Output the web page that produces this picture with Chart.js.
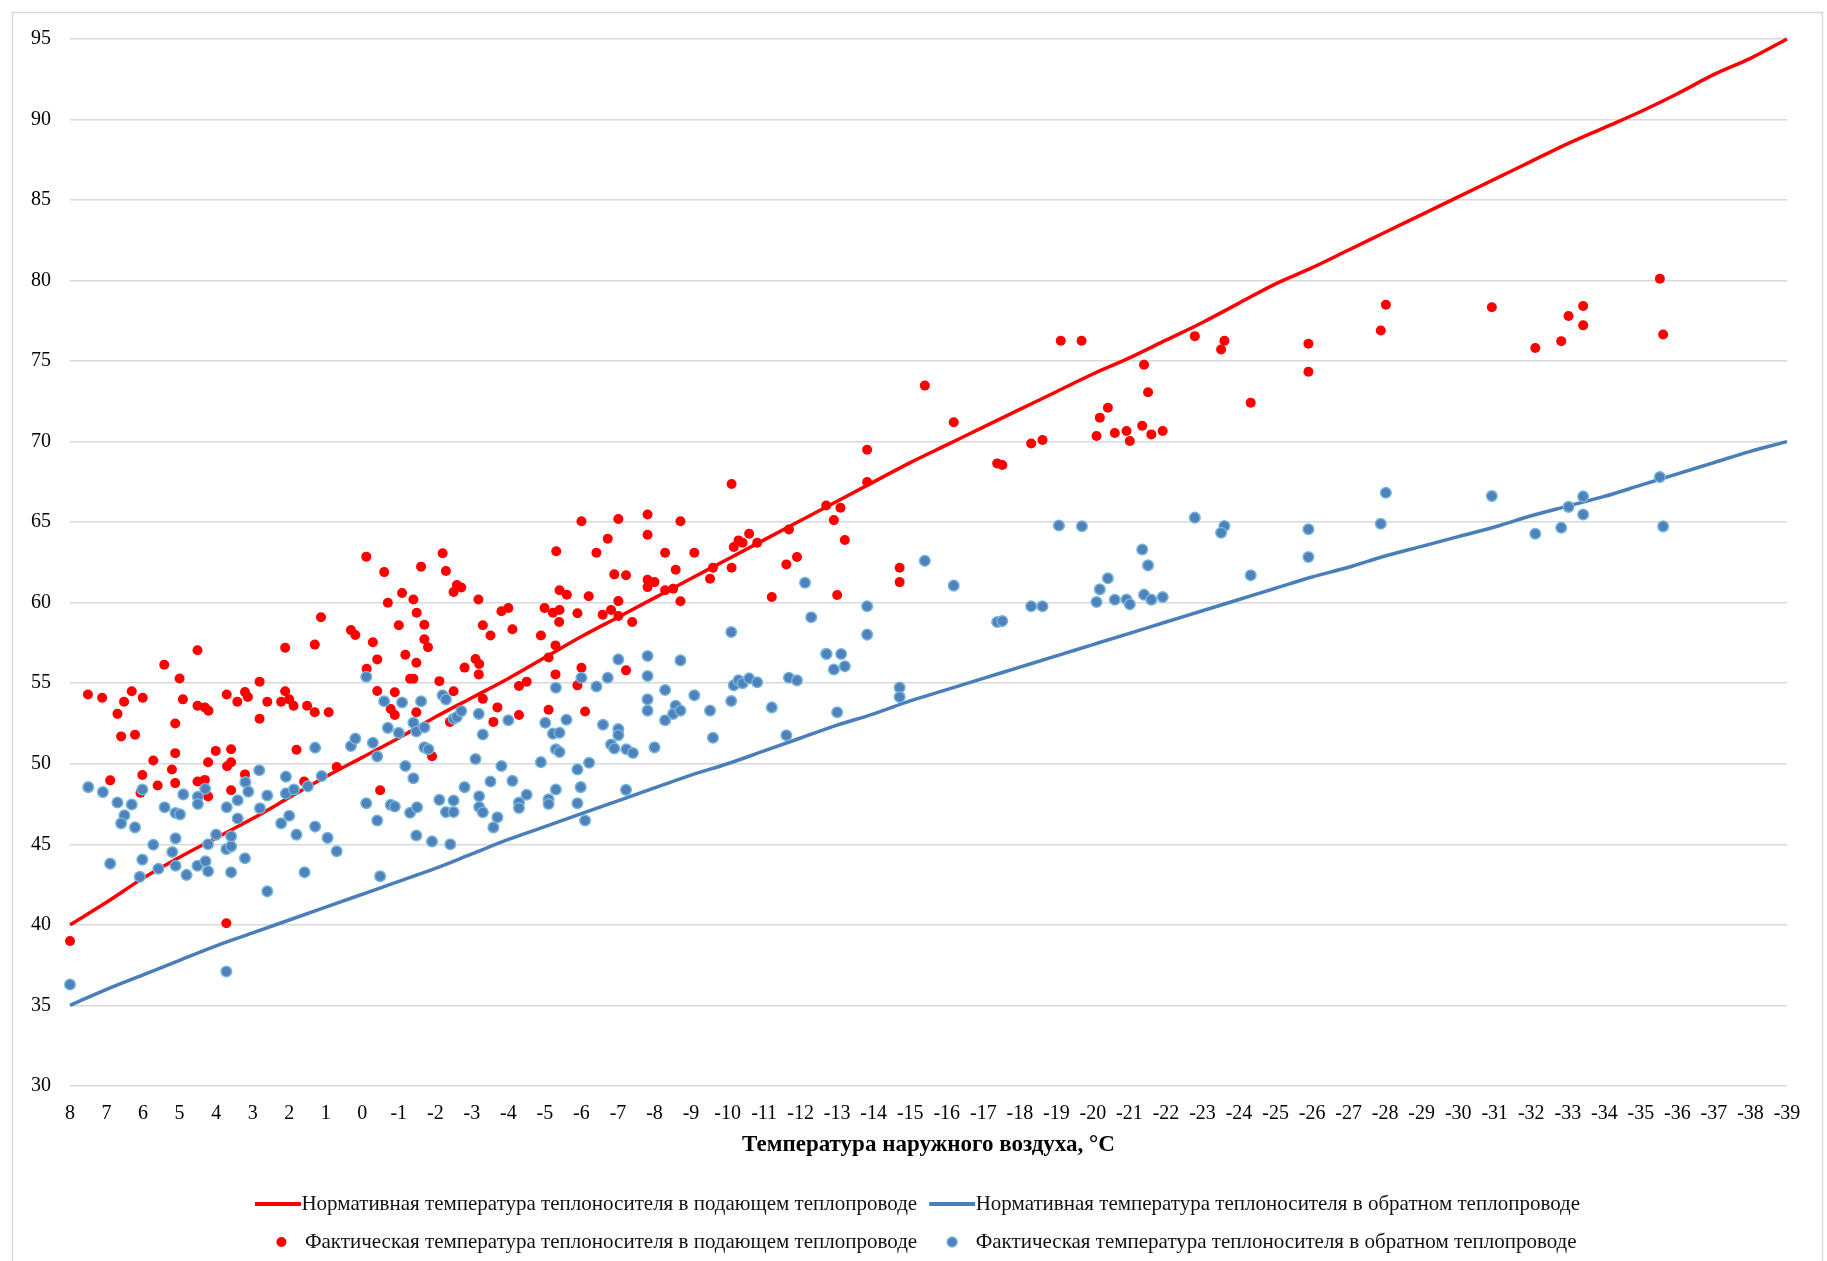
<!DOCTYPE html>
<html>
<head>
<meta charset="utf-8">
<title>Температура теплоносителя</title>
<script src="https://cdn.jsdelivr.net/npm/chart.js@4.4.1/dist/chart.umd.min.js"></script>
<style>
  html, body { margin: 0; padding: 0; background: #fff; }
  #wrap { position: relative; width: 1827px; height: 1261px; }
  canvas { display: block; }
</style>
</head>
<body>
<div id="wrap"><canvas id="chart" width="1827" height="1261"></canvas></div>
<script>
// Outdoor air temperature points of the schedule, °C
const outdoorTemps = [8, 7, 6, 5, 4, 3, 2, 1, 0, -1, -2, -3, -4, -5, -6, -7, -8, -9, -10, -11, -12, -13, -14, -15,
  -16, -17, -18, -19, -20, -21, -22, -23, -24, -25, -26, -27, -28, -29, -30, -31, -32, -33, -34, -35, -36, -37, -38, -39];

const xTickLabels = ['8', '7', '6', '5', '4', '3', '2', '1', '0', '-1', '-2', '-3', '-4', '-5', '-6', '-7', '-8', '-9',
  '-10', '-11', '-12', '-13', '-14', '-15', '-16', '-17', '-18', '-19', '-20', '-21', '-22', '-23', '-24', '-25', '-26',
  '-27', '-28', '-29', '-30', '-31', '-32', '-33', '-34', '-35', '-36', '-37', '-38', '-39'];

const yTickValues = [30, 35, 40, 45, 50, 55, 60, 65, 70, 75, 80, 85, 90, 95];

// Normative supply temperature, °C
const normSupply = [40.0, 41.4, 42.9, 44.2, 45.4, 46.6, 47.9, 49.2, 50.4, 51.6, 52.9, 54.1, 55.3, 56.6, 57.9, 59.1,
  60.3, 61.5, 62.7, 63.9, 65.1, 66.3, 67.5, 68.7, 69.8, 70.9, 72.0, 73.1, 74.2, 75.2, 76.3, 77.4,
  78.6, 79.8, 80.8, 81.9, 83.0, 84.1, 85.2, 86.3, 87.4, 88.5, 89.5, 90.5, 91.6, 92.8, 93.8, 95.0];

// Normative return temperature, °C
const normReturn = [35.0, 36.0, 36.9, 37.8, 38.7, 39.5, 40.3, 41.1, 41.9, 42.7, 43.5, 44.4, 45.3, 46.1, 46.9, 47.7,
  48.5, 49.3, 50.0, 50.8, 51.6, 52.4, 53.1, 53.9, 54.6, 55.3, 56.0, 56.7, 57.4, 58.1, 58.8, 59.5,
  60.2, 60.9, 61.6, 62.2, 62.9, 63.5, 64.1, 64.7, 65.4, 66.0, 66.6, 67.3, 68.0, 68.7, 69.4, 70.0];

// Measured supply temperature: [outdoor °C, supply °C]
const factSupply = [
  [8.0, 39.0], [3.72, 40.1], [7.51, 54.3], [7.12, 54.1], [6.31, 54.5], [6.52, 53.85], [6.01, 54.1], [6.70, 53.1],
  [6.60, 51.7], [6.22, 51.8], [5.42, 56.15], [5.0, 55.3], [4.91, 54.0], [4.51, 57.05], [4.51, 53.6], [4.31, 53.5],
  [4.21, 53.3], [5.12, 52.5], [3.71, 54.3], [3.42, 53.85], [3.21, 54.45], [3.13, 54.15], [2.81, 55.1], [2.81, 52.8],
  [2.60, 53.85], [2.11, 57.2], [1.30, 57.4], [1.13, 59.1], [2.22, 53.85], [2.11, 54.5], [2.0, 54.0], [1.88, 53.6],
  [1.51, 53.6], [1.30, 53.2], [0.92, 53.2], [4.01, 50.8], [3.59, 50.9], [3.59, 50.1], [3.70, 49.85], [4.22, 50.1],
  [5.12, 50.66], [5.21, 49.65], [5.72, 50.2], [6.02, 49.3], [6.90, 48.97], [5.6, 48.65], [5.12, 48.8], [4.51, 48.9],
  [4.31, 49.0], [4.22, 47.97], [3.21, 49.34], [3.59, 48.36], [1.80, 50.87], [1.59, 48.9], [6.07, 48.2], [0.70, 49.8],
  [-0.11, 62.86], [-0.60, 61.9], [-0.70, 60.0], [-1.09, 60.6], [-1.40, 60.2], [-1.49, 59.38], [-1.0, 58.6], [-1.70, 58.63],
  [-1.61, 62.24], [-2.20, 63.07], [-2.29, 61.97], [-2.50, 60.66], [-2.71, 60.95], [-2.59, 61.1], [-3.18, 60.2], [-3.30, 58.6],
  [-3.51, 57.97], [-3.81, 59.47], [-4.0, 59.67], [-4.11, 58.35], [-4.89, 57.97], [-4.99, 59.67], [-5.22, 59.38], [-5.40, 59.55],
  [-5.39, 58.8], [-5.31, 63.2], [-5.40, 60.77], [-5.60, 60.5], [-5.29, 57.35], [-5.10, 56.6], [-5.29, 55.55], [0.31, 58.3],
  [0.19, 58.0], [-0.29, 57.55], [-0.41, 56.48], [-0.12, 55.9], [-1.18, 56.77], [-1.48, 56.27], [-1.70, 57.73], [-1.80, 57.23],
  [-1.31, 55.28], [-1.40, 55.28], [-2.11, 55.13], [-2.50, 54.5], [-0.41, 54.52], [-0.89, 54.44], [-0.78, 53.4], [-0.89, 53.03],
  [-1.48, 53.2], [-3.10, 56.5], [-3.20, 56.2], [-3.19, 55.55], [-2.80, 55.97], [-3.30, 54.03], [-3.70, 53.5], [-3.59, 52.6],
  [-4.29, 54.83], [-4.50, 55.1], [-4.29, 53.03], [-5.10, 53.35], [-2.40, 52.6], [-1.91, 50.47], [-0.49, 48.36],
  [-6.0, 65.06], [-7.01, 65.2], [-7.81, 65.48], [-7.81, 64.22], [-8.71, 65.06], [-10.11, 67.37], [-6.72, 63.97], [-6.41, 63.1],
  [-8.29, 63.1], [-9.09, 63.1], [-8.58, 62.05], [-9.60, 62.17], [-10.11, 62.17], [-9.52, 61.49], [-6.90, 61.76], [-7.22, 61.7],
  [-7.81, 61.43], [-7.81, 60.97], [-8.0, 61.28], [-8.29, 60.77], [-8.51, 60.87], [-8.71, 60.09], [-10.17, 63.46], [-10.30, 63.87],
  [-10.41, 63.72], [-10.59, 64.28], [-10.81, 63.72], [-11.68, 64.55], [-12.70, 66.04], [-11.61, 62.38], [-11.90, 62.84], [-11.21, 60.35],
  [-6.20, 60.4], [-5.89, 59.35], [-6.58, 59.25], [-6.81, 59.55], [-7.01, 60.1], [-7.01, 59.18], [-7.39, 58.8], [-6.0, 55.96],
  [-7.22, 55.8], [-5.89, 54.87], [-6.10, 53.25],
  [-15.40, 73.48], [-16.19, 71.2], [-13.82, 69.5], [-13.82, 67.5], [-13.09, 65.9], [-12.91, 65.13], [-13.21, 63.89], [-14.71, 62.17],
  [-14.71, 61.28], [-13.0, 60.48], [-17.38, 68.65], [-17.52, 68.55], [-18.31, 69.88], [-18.62, 70.1], [-20.10, 70.35], [-20.19, 71.49],
  [-20.41, 72.11], [-20.60, 70.54], [-20.92, 70.66], [-21.01, 70.04], [-21.35, 70.99],
  [-19.12, 76.26], [-19.69, 76.26], [-22.79, 76.55], [-23.60, 76.26], [-23.51, 75.72], [-25.90, 76.08], [-25.90, 74.34], [-24.32, 72.42],
  [-27.88, 76.9], [-21.40, 74.77], [-21.51, 73.07], [-21.60, 70.45], [-21.91, 70.66],
  [-28.02, 78.5], [-30.92, 78.35], [-32.11, 75.82], [-32.82, 76.24], [-33.02, 77.8], [-33.42, 78.42], [-33.42, 77.22], [-35.52, 80.11],
  [-35.61, 76.65]
];

// Measured return temperature: [outdoor °C, return °C]
const factReturn = [
  [7.50, 48.55], [7.10, 48.24], [6.70, 47.6], [6.31, 47.47], [6.02, 48.4], [6.51, 46.8], [6.60, 46.3], [6.22, 46.05],
  [5.41, 47.3], [5.11, 46.94], [4.99, 46.86], [4.90, 48.1], [4.50, 47.95], [4.50, 47.5], [4.30, 48.45], [3.71, 47.3],
  [3.41, 47.74], [3.41, 46.6], [3.20, 48.86], [3.12, 48.27], [2.80, 47.24], [2.60, 48.03], [2.09, 49.2], [2.09, 48.16],
  [1.87, 48.4], [1.49, 48.6], [1.11, 49.24], [2.22, 46.3], [2.0, 46.77], [1.80, 45.6], [1.29, 46.1], [0.95, 45.4],
  [6.90, 43.8], [6.02, 44.05], [6.09, 42.98], [5.72, 44.97], [5.58, 43.48], [5.20, 44.52], [5.11, 45.37], [5.11, 43.67],
  [4.81, 43.1], [4.51, 43.67], [4.29, 43.95], [4.22, 43.33], [4.22, 45.0], [4.0, 45.6], [3.72, 44.7], [3.59, 44.87],
  [3.59, 45.5], [3.59, 43.26], [3.21, 44.13], [2.60, 42.08], [1.58, 43.26], [3.72, 37.1], [8.0, 36.3], [1.29, 51.0],
  [2.82, 49.6],
  [0.70, 44.57], [0.31, 51.1], [0.19, 51.56], [-0.29, 51.3], [-0.41, 50.46], [-0.11, 47.55], [-0.41, 46.48], [-0.49, 43.02],
  [-0.60, 53.88], [-1.09, 53.8], [-0.70, 52.23], [-1.0, 51.92], [-1.40, 52.55], [-1.48, 52.0], [-1.70, 52.26], [-1.70, 51.02],
  [-1.81, 50.9], [-1.61, 53.88], [-1.18, 49.86], [-1.40, 49.1], [-0.78, 47.45], [-0.89, 47.35], [-1.31, 46.96], [-1.50, 47.3],
  [-1.48, 45.55], [-1.91, 45.18], [-2.41, 45.0], [-2.20, 54.25], [-2.29, 54.0], [-2.50, 52.8], [-2.59, 52.9], [-2.71, 53.27],
  [-2.11, 47.76], [-2.50, 47.72], [-2.29, 47.0], [-2.50, 47.0], [-2.80, 48.55], [-3.10, 50.3], [-3.20, 47.98], [-3.20, 47.32],
  [-3.30, 46.99], [-3.19, 53.1], [-3.30, 51.82], [-3.81, 49.86], [-3.51, 48.9], [-3.70, 46.68], [-3.59, 46.05], [-4.11, 48.94],
  [-4.0, 52.7], [-4.29, 47.6], [-4.29, 47.25], [-4.50, 48.08], [-4.89, 50.1], [-5.01, 52.55], [-5.22, 51.87], [-5.40, 51.93],
  [-5.30, 50.9], [-5.40, 50.73], [-5.10, 47.8], [-5.10, 47.5], [-5.30, 48.4], [-5.59, 52.73], [-0.11, 55.4], [-5.30, 54.72],
  [-7.01, 56.48], [-7.81, 56.69], [-8.71, 56.42], [-10.10, 58.18], [-12.12, 61.24], [-12.29, 59.1], [-12.70, 56.83], [-6.0, 55.34],
  [-6.72, 55.34], [-6.41, 54.8], [-7.81, 55.45], [-8.29, 54.58], [-9.09, 54.25], [-7.81, 54.0], [-7.81, 53.3], [-8.58, 53.6],
  [-8.51, 53.1], [-8.71, 53.3], [-9.52, 53.3], [-10.10, 53.9], [-10.17, 54.87], [-10.30, 55.18], [-10.41, 55.0], [-10.59, 55.3],
  [-10.81, 55.06], [-11.68, 55.34], [-11.90, 55.18], [-11.21, 53.5], [-6.59, 52.42], [-7.01, 52.15], [-8.29, 52.7], [-9.60, 51.62],
  [-11.61, 51.77], [-8.0, 51.02], [-7.01, 51.78], [-6.81, 51.2], [-6.90, 50.95], [-7.23, 50.9], [-7.41, 50.67], [-5.89, 49.65],
  [-6.21, 50.06], [-5.98, 48.55], [-5.89, 47.55], [-6.10, 46.48], [-7.22, 48.38],
  [-19.07, 64.79], [-19.70, 64.75], [-15.40, 62.6], [-16.19, 61.06], [-13.82, 59.78], [-13.82, 58.02], [-12.71, 56.82], [-13.11, 56.82],
  [-12.91, 55.85], [-13.21, 56.05], [-14.71, 54.73], [-14.71, 54.15], [-13.0, 53.2], [-17.38, 58.8], [-17.52, 58.86], [-18.31, 59.78],
  [-18.62, 59.78], [-20.10, 60.04], [-20.19, 60.83], [-20.41, 61.52], [-20.60, 60.18], [-20.92, 60.2], [-21.01, 59.9], [-21.35, 63.3],
  [-21.40, 60.5],
  [-22.79, 65.28], [-23.60, 64.76], [-23.51, 64.34], [-25.90, 64.56], [-25.90, 62.84], [-24.32, 61.7], [-27.88, 64.9], [-21.51, 62.32],
  [-21.60, 60.19], [-21.91, 60.35],
  [-28.02, 66.83], [-30.92, 66.62], [-32.11, 64.28], [-32.82, 64.66], [-33.02, 65.95], [-33.42, 66.6], [-33.42, 65.48], [-35.52, 67.8],
  [-35.61, 64.74]
];

const seriesNames = [
  'Нормативная температура теплоносителя в подающем теплопроводе',
  'Нормативная температура теплоносителя в обратном теплопроводе',
  'Фактическая температура теплоносителя в подающем теплопроводе',
  'Фактическая температура теплоносителя в обратном теплопроводе'
];
const axisTitle = 'Температура наружного воздуха, °С';

const RED = '#ff0000';
const BLUE_LINE = '#4a7ebb';
const BLUE_FILL = '#4f81bd';
const BLUE_EDGE = '#74b6d8';
const FONT = '"Liberation Serif", "Times New Roman", serif';

const toPoints = (xs, ys) => xs.map((x, i) => ({ x, y: ys[i] }));
const pairPoints = arr => arr.map(([x, y]) => ({ x, y }));

// Legend symbols: a short line for the schedules, a dot for the measurements
const legendSymbols = [
  { kind: 'line', color: RED },
  { kind: 'line', color: BLUE_LINE },
  { kind: 'dot', color: RED },
  { kind: 'dot', color: BLUE_FILL, edge: BLUE_EDGE }
];

// White background with a thin grey frame around the chart
const framePlugin = {
  id: 'frame',
  beforeDraw(chart) {
    const ctx = chart.ctx;
    ctx.save();
    ctx.fillStyle = '#ffffff';
    ctx.fillRect(0, 0, chart.width, chart.height);
    ctx.strokeStyle = '#d9d9d9';
    ctx.lineWidth = 1.5;
    ctx.strokeRect(12.5, 12.5, 1810, 1270);
    ctx.restore();
  }
};

// Centre the legend on the whole canvas and paint its symbols
const legendSymbolsPlugin = {
  id: 'legendSymbols',
  afterLayout(chart) {
    const lg = chart.legend;
    if (lg) {
      lg.left += 24; lg.right += 24;
      lg.top += 4; lg.bottom += 4;
    }
  },
  afterDraw(chart) {
    const lg = chart.legend;
    if (!lg || !lg.legendHitBoxes) return;
    const ctx = chart.ctx;
    ctx.save();
    lg.legendItems.forEach((item, i) => {
      const hb = lg.legendHitBoxes[i];
      const sym = legendSymbols[item.datasetIndex];
      const cy = hb.top + hb.height / 2;
      if (sym.kind === 'line') {
        ctx.fillStyle = sym.color;
        ctx.fillRect(hb.left, cy - 2, 46, 4);
      } else {
        ctx.beginPath();
        ctx.arc(hb.left + 23, cy, 5, 0, Math.PI * 2);
        ctx.fillStyle = sym.color;
        ctx.fill();
        if (sym.edge) { ctx.lineWidth = 1.5; ctx.strokeStyle = sym.edge; ctx.stroke(); }
      }
    });
    ctx.restore();
  }
};

new Chart(document.getElementById('chart'), {
  type: 'scatter',
  data: {
    datasets: [
      {
        label: seriesNames[0],
        data: toPoints(outdoorTemps, normSupply),
        showLine: true, borderColor: RED, backgroundColor: RED, borderWidth: 3.5,
        pointRadius: 0, pointHoverRadius: 0, tension: 0.3, cubicInterpolationMode: 'monotone',
        order: 3, clip: false
      },
      {
        label: seriesNames[1],
        data: toPoints(outdoorTemps, normReturn),
        showLine: true, borderColor: BLUE_LINE, backgroundColor: BLUE_LINE, borderWidth: 3.5,
        pointRadius: 0, pointHoverRadius: 0, tension: 0.3, cubicInterpolationMode: 'monotone',
        order: 2, clip: false
      },
      {
        label: seriesNames[2],
        data: pairPoints(factSupply),
        backgroundColor: RED, borderColor: RED, borderWidth: 0,
        pointRadius: 5, pointHoverRadius: 5, order: 1, clip: false
      },
      {
        label: seriesNames[3],
        data: pairPoints(factReturn),
        backgroundColor: BLUE_FILL, borderColor: BLUE_EDGE, borderWidth: 1.5,
        pointRadius: 5.3, pointHoverRadius: 5.3, order: 0, clip: false
      }
    ]
  },
  options: {
    responsive: false,
    animation: false,
    layout: { padding: { left: 0, right: 40, top: 39, bottom: 0 } },
    plugins: {
      tooltip: { enabled: false },
      legend: {
        position: 'bottom',
        labels: {
          usePointStyle: false,
          boxWidth: 36,
          boxHeight: 26,
          padding: 12,
          color: '#111',
          font: { family: FONT, size: 21 },
          generateLabels(chart) {
            const items = Chart.defaults.plugins.legend.labels.generateLabels(chart);
            items.sort((a, b) => a.datasetIndex - b.datasetIndex);
            items.forEach(it => {
              it.fillStyle = 'rgba(0,0,0,0)';
              it.strokeStyle = 'rgba(0,0,0,0)';
              it.lineWidth = 0;
            });
            return items;
          }
        }
      }
    },
    scales: {
      x: {
        type: 'linear',
        reverse: true,
        min: outdoorTemps[outdoorTemps.length - 1],
        max: outdoorTemps[0],
        afterBuildTicks(scale) {
          scale.ticks = outdoorTemps.map(v => ({ value: v }));
        },
        ticks: {
          autoSkip: false,
          maxRotation: 0,
          padding: 8,
          color: '#000',
          font: { family: FONT, size: 20 },
          callback(value) {
            const i = outdoorTemps.indexOf(value);
            return i >= 0 ? xTickLabels[i] : '';
          }
        },
        grid: { display: false },
        border: { display: false },
        title: {
          display: true,
          text: axisTitle,
          color: '#000',
          font: { family: FONT, size: 23, weight: 'bold' },
          padding: { top: -3, bottom: 16.5 }
        }
      },
      y: {
        min: yTickValues[0],
        max: yTickValues[yTickValues.length - 1],
        afterBuildTicks(scale) {
          scale.ticks = yTickValues.map(v => ({ value: v }));
        },
        afterFit(scale) { scale.width = 70; },
        ticks: {
          padding: 19,
          color: '#000',
          font: { family: FONT, size: 20 }
        },
        grid: { color: '#d9d9d9', lineWidth: 1.5, drawTicks: false },
        border: { display: false }
      }
    }
  },
  plugins: [framePlugin, legendSymbolsPlugin]
});
</script>
</body>
</html>
